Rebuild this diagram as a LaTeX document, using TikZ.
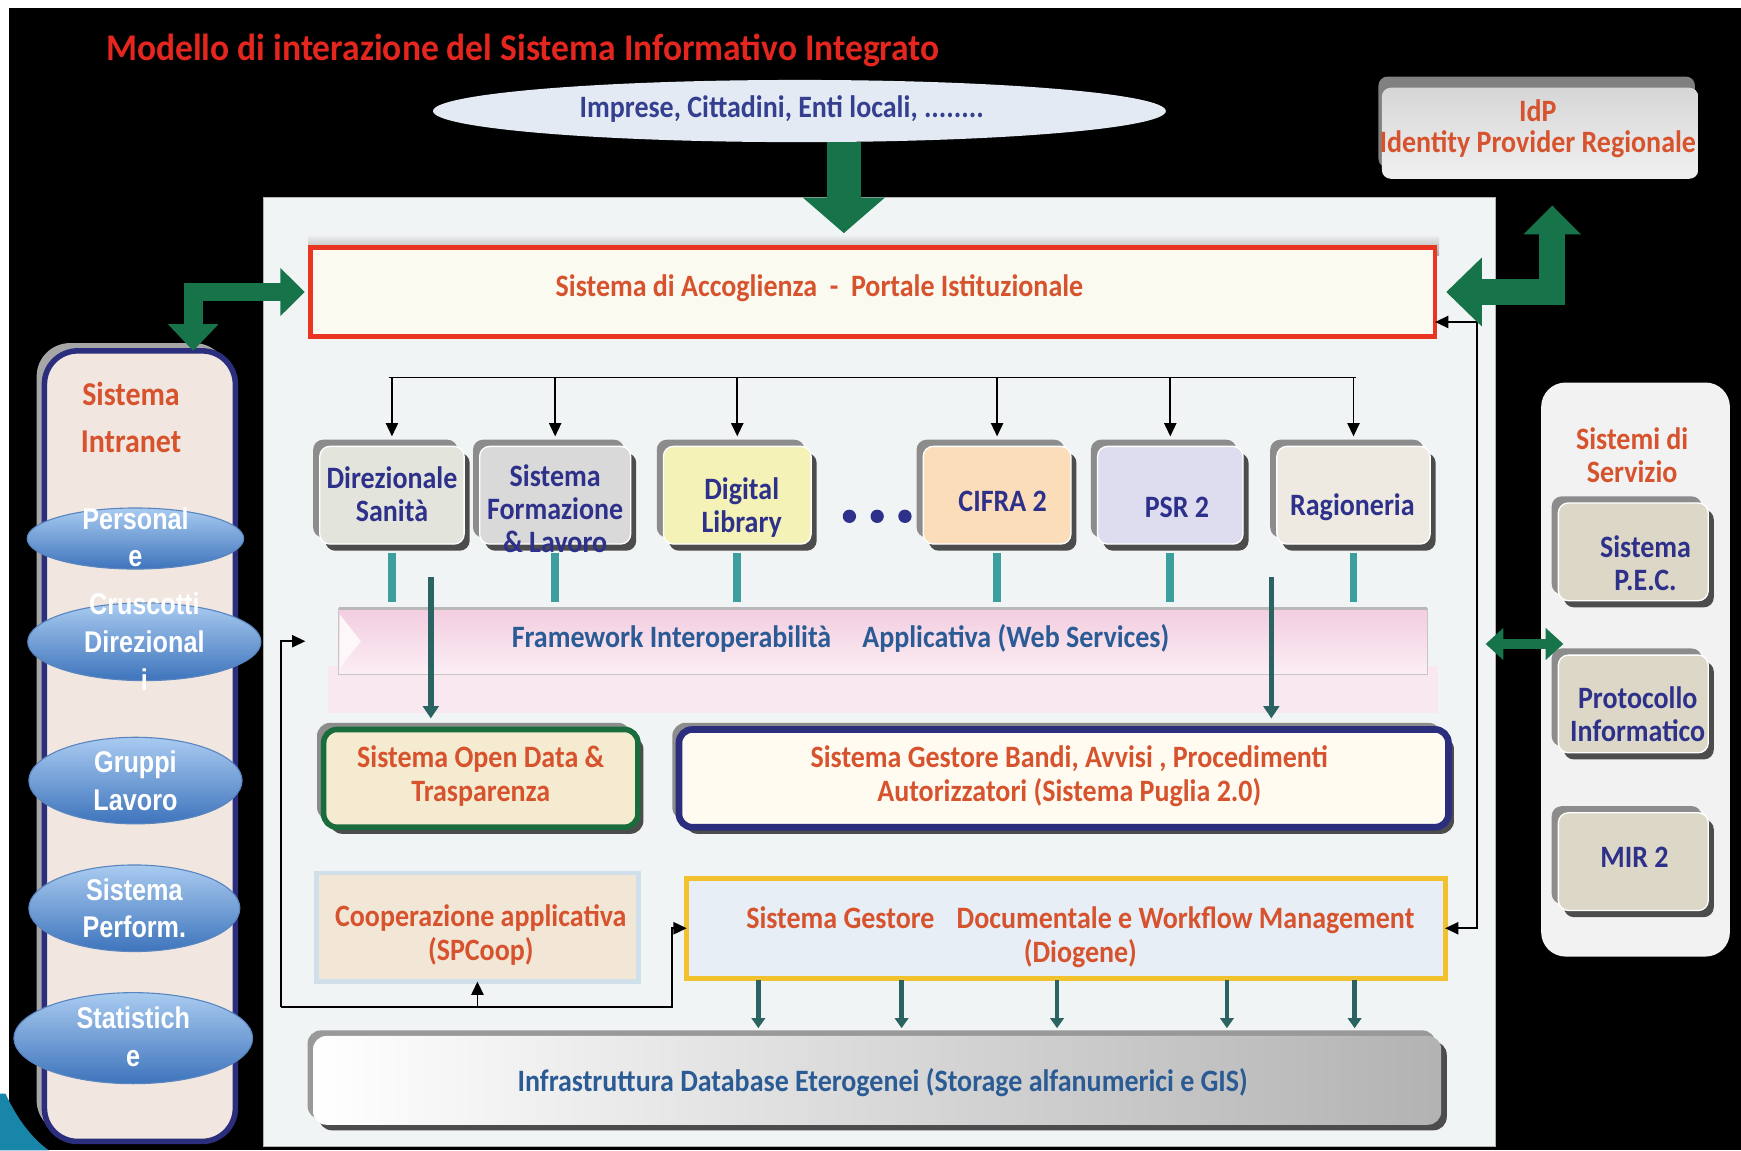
\documentclass[tikz,border=0pt]{standalone}
\usepackage{fontspec}
\setmainfont{Carlito}[FakeStretch=0.9]
\newfontfamily\titfont{Carlito}[FakeStretch=0.94]
\newfontfamily\elfont{Liberation Sans}[FakeStretch=0.84]
\usetikzlibrary{arrows.meta,shadows,calc,shapes.geometric}
\definecolor{titred}{HTML}{E4261E}
\definecolor{ortxt}{HTML}{D6532E}
\definecolor{navytxt}{HTML}{2E318A}
\definecolor{bluetxt}{HTML}{2B5B95}
\definecolor{imptxt}{HTML}{34408F}
\definecolor{garrow}{HTML}{17744A}
\definecolor{tealc}{HTML}{3D9E9E}
\definecolor{dteal}{HTML}{2A6361}
\definecolor{navyb}{HTML}{2A2E7C}
\definecolor{greenb}{HTML}{1B6C3C}
\definecolor{goldb}{HTML}{F2C12E}
\definecolor{redb}{HTML}{EA3522}
\definecolor{panelc}{HTML}{F1F4F4}
\definecolor{ellc}{HTML}{E4EAF4}
\definecolor{portalfill}{HTML}{FBFAF1}
\definecolor{idpTop}{HTML}{D6D6D6}
\definecolor{idpBot}{HTML}{F0F0F0}
\definecolor{intrfill}{HTML}{F1E7E0}
\definecolor{elTop}{HTML}{A9CBF0}
\definecolor{elBot}{HTML}{3E74BC}
\definecolor{elDraw}{HTML}{5A86C0}
\definecolor{dirfill}{HTML}{E3E4DB}
\definecolor{formfill}{HTML}{D9D9D9}
\definecolor{digfill}{HTML}{F4F2B6}
\definecolor{cifrafill}{HTML}{FBDDBA}
\definecolor{psrfill}{HTML}{DDDDEF}
\definecolor{ragfill}{HTML}{EEEAE1}
\definecolor{fwTop}{HTML}{F2CDE0}
\definecolor{fwBot}{HTML}{FCEEF4}
\definecolor{fwglow}{HTML}{F9E8EF}
\definecolor{odfill}{HTML}{F5EBD0}
\definecolor{bdfill}{HTML}{FFFBF1}
\definecolor{coopfill}{HTML}{F2E6D7}
\definecolor{coopglow}{HTML}{CFE0EA}
\definecolor{docfill}{HTML}{E7EEF6}
\definecolor{svcfill}{HTML}{F2F2F2}
\definecolor{svbfill}{HTML}{DCD7C6}
\definecolor{decoblue}{HTML}{1786A8}
\begin{document}
\begin{tikzpicture}[x=1pt,y=-1pt,
  every node/.style={inner sep=0pt, outer sep=0pt},
  lbl/.style={align=center, font=\bfseries\fontsize{28}{30}\selectfont},
  ortext/.style={lbl, text=ortxt},
  nvtext/.style={lbl, text=navytxt},
  modbox/.style={draw=white, line width=1.2pt, rounded corners=9pt, minimum height=88pt,
    general shadow={shadow xshift=-6pt, shadow yshift=6pt, fill=black!45},
    general shadow={shadow xshift=5pt, shadow yshift=-6pt, fill=black!70}},
  bigbox/.style={rounded corners=12pt, minimum height=88pt,
    general shadow={shadow xshift=-6pt, shadow yshift=6pt, fill=black!45},
    general shadow={shadow xshift=5pt, shadow yshift=-6pt, fill=black!70}},
  svbox/.style={modbox, fill=svbfill, minimum width=135pt},
  elps/.style={ellipse, top color=elTop, bottom color=elBot, draw=elDraw, line width=1pt},
  eltxt/.style={align=center, text=white, font=\elfont\bfseries\fontsize{27}{34}\selectfont},
  bus/.style={draw=black, line width=1.6pt},
  busarr/.style={bus, -{Triangle[length=12pt,width=11pt]}, shorten >=9pt},
  blkarr/.style={bus, -{Triangle[length=12pt,width=11pt]}},
  tealconn/.style={draw=tealc, line width=7pt, shorten <=8pt, shorten >=6pt},
  dtarr/.style={draw=dteal, line width=5pt, -{Triangle[length=11pt,width=14pt]}},
  garr/.style={draw=garrow, line join=miter},
]
% background
\fill[white] (0,0) rectangle (1568,1036);
\fill[black] (8,7) rectangle (1568,1036);
\fill[decoblue] (0,985) -- (5,985) .. controls (14,1005) and (28,1025) .. (44,1036) -- (0,1036) -- cycle;

% title
\node[font=\titfont\bfseries\fontsize{34}{36}\selectfont, text=titred] (title) at (471,45) {Modello di interazione del Sistema Informativo Integrato};

% top ellipse
\node[ellipse, fill=ellc, minimum width=660pt, minimum height=56pt] (ell) at (720,100) {};
\node[lbl, text=imptxt] (ellT) at (704,98) {Imprese, Cittadini, Enti locali, ........};

% IdP
\node[rounded corners=8pt, top color=idpTop, bottom color=idpBot, minimum width=285pt, minimum height=82pt,
  general shadow={shadow xshift=-3pt, shadow yshift=10pt, fill=black!50}] (idp) at (1387,120) {};
\node[ortext, font=\bfseries\fontsize{28}{28}\selectfont] (idpT) at (1385,116) {IdP\\Identity Provider Regionale};

% main panel
\node[draw=gray!60, fill=panelc, minimum width=1110pt, minimum height=854pt] (panel) at (792,605) {};

% portal
\fill[top color=panelc, bottom color=gray!70] (278,211) rectangle (1296,230);
\node[draw=redb, line width=4pt, fill=portalfill, minimum width=1013pt, minimum height=80pt] (portal) at (786,263) {};
\node[ortext] (portalT) at (738,260) {Sistema di Accoglienza\ \ -\ \ Portale Istituzionale};

% Intranet column
\node[draw=navyb, line width=5pt, fill=intrfill, rounded corners=30pt, minimum width=172pt, minimum height=712pt,
  general shadow={shadow xshift=-7pt, shadow yshift=7pt, fill=gray!70}] (intr) at (126,672) {};
\node[ortext, font=\bfseries\fontsize{30}{42}\selectfont] (intrT) at (118,376) {Sistema\\Intranet};
\node[elps, minimum width=195pt, minimum height=55pt] (e1) at (122,485) {};
\node[eltxt] (e1T) at (122,484) {Personal\\e};
\node[elps, minimum width=210pt, minimum height=70pt] (e2) at (130,578) {};
\node[eltxt] (e2T) at (130,578) {Cruscotti\\Direzional\\i};
\node[elps, minimum width=192pt, minimum height=78pt] (e3) at (122,703) {};
\node[eltxt] (e3T) at (122,703) {Gruppi\\Lavoro};
\node[elps, minimum width=190pt, minimum height=78pt] (e4) at (121,818) {};
\node[eltxt] (e4T) at (121,818) {Sistema\\Perform.};
\node[elps, minimum width=215pt, minimum height=82pt] (e5) at (120,935) {};
\node[eltxt] (e5T) at (120,934) {Statistich\\e};

% module boxes
\node[modbox, fill=dirfill, minimum width=130pt] (dir) at (353,446) {};
\node[nvtext] (dirT) at (353,445) {Direzionale\\Sanità};
\node[modbox, fill=formfill, minimum width=136pt] (form) at (500,446) {};
\node[nvtext] (formT) at (500,458) {Sistema\\Formazione\\\& Lavoro};
\node[modbox, fill=digfill, minimum width=133pt] (dig) at (664,446) {};
\node[nvtext] (digT) at (668,457) {Digital\\Library};
\node[modbox, fill=cifrafill, minimum width=133pt] (cifra) at (898,446) {};
\node[nvtext] (cifraT) at (903,452) {CIFRA 2};
\node[modbox, fill=psrfill, minimum width=131pt] (psr) at (1054,446) {};
\node[nvtext] (psrT) at (1060,457) {PSR 2};
\node[modbox, fill=ragfill, minimum width=138pt] (rag) at (1219,446) {};
\node[nvtext] (ragT) at (1218,457) {Ragioneria};
\foreach \x in {765,790,815} \fill[navytxt] (\x,465) circle (6);

% distribution bus
\coordinate (busL) at (350,340);
\coordinate (busR) at (1221,340);
\draw[bus] (busL) -- (busR);
\foreach \n in {dir,form,dig,cifra,psr,rag} \draw[busarr] (busL -| \n.north) -- (\n.north);

% framework
\fill[fwglow] (295,600) rectangle (1295,642);
\node[top color=fwTop, bottom color=fwBot, draw=gray!45, minimum width=980pt, minimum height=59pt] (fw) at (795,577.5) {};
\draw[gray!55, line width=3pt] (fw.north west) -- (fw.north east);
\fill[white!55!fwBot] ($(fw.west)+(1,-24)$) -- ($(fw.west)+(20,0)$) -- ($(fw.west)+(1,24)$) -- cycle;
\node[lbl, text=bluetxt] (fwT) at (757,575) {Framework Interoperabilità\hspace{28pt}Applicativa (Web Services)};
\foreach \n in {dir,form,dig,cifra,psr,rag} \draw[tealconn] (\n.south) -- (\n.south |- fw.north);

% open data / bandi
\node[bigbox, draw=greenb, line width=5pt, fill=odfill, minimum width=283pt] (od) at (433,701) {};
\node[ortext] (odT) at (433,699) {Sistema Open Data \&\\Trasparenza};
\node[bigbox, draw=navyb, line width=6pt, fill=bdfill, minimum width=693pt] (bd) at (958,701) {};
\node[ortext] (bdT) at (963,699) {Sistema Gestore Bandi, Avvisi , Procedimenti\\Autorizzatori (Sistema Puglia 2.0)};
\coordinate (odIn) at (388,520);
\coordinate (bdIn) at (1145,520);
\draw[dtarr, shorten >=10pt] (odIn) -- (odIn |- od.north);
\draw[dtarr, shorten >=10pt] (bdIn) -- (bdIn |- bd.north);

% cooperazione / documentale
\node[fill=coopfill, draw=coopglow, line width=4pt, minimum width=290pt, minimum height=98pt] (coop) at (430,835) {};
\node[ortext] (coopT) at (433,842) {Cooperazione applicativa\\(SPCoop)};
\node[draw=goldb, line width=4.5pt, fill=docfill, minimum width=683pt, minimum height=90pt] (doc) at (960,836) {};
\node[ortext] (docT) at (973,844) {Sistema Gestore\hspace{20pt}Documentale e Workflow Management\\(Diogene)};

% infrastruttura
\node[rounded corners=12pt, left color=white, right color=gray!60, minimum width=1016pt, minimum height=80pt,
  general shadow={shadow xshift=-5pt, shadow yshift=5pt, fill=black!40},
  general shadow={shadow xshift=5pt, shadow yshift=-5pt, fill=black!70}] (inf) at (790,973) {};
\node[lbl, text=bluetxt] (infT) at (795,975) {Infrastruttura Database Eterogenei (Storage alfanumerici e GIS)};
\foreach \x [count=\i] in {683,812,952,1105,1220} {
  \coordinate (dx\i) at (\x,0);
  \draw[draw=dteal, line width=4pt, -{Triangle[length=9pt,width=12pt]}, shorten <=2pt, shorten >=7pt] (doc.south -| dx\i) -- (inf.north -| dx\i);
}

% black connectors
\coordinate (lc) at (253,907);
\coordinate (lc2) at (605,907);
\draw[blkarr, shorten >=30pt] (lc) |- (fw.west);
\draw[blkarr] (lc) -- (lc2) |- (doc.west);
\draw[blkarr] (coop.south |- lc) -- (coop.south);
\coordinate (rc) at (1330,290);
\draw[bus, {Triangle[length=12pt,width=11pt]}-{Triangle[length=12pt,width=11pt]}] (portal.east |- rc) -- (rc) |- (doc.east);

% services panel
\node[rounded corners=22pt, fill=svcfill, minimum width=170pt, minimum height=517pt] (svc) at (1473,603) {};
\node[ortext] (svcT) at (1470,410) {Sistemi di\\Servizio};
\node[svbox] (pec) at (1471,497) {};
\node[nvtext] (pecT) at (1482,507) {Sistema\\P.E.C.};
\node[svbox] (proto) at (1471,634) {};
\node[nvtext] (protoT) at (1475,643) {Protocollo\\Informatico};
\node[svbox] (mir) at (1471,776) {};
\node[nvtext] (mirT) at (1472,772) {MIR 2};

% green arrows
\coordinate (dnTip) at (760,210);
\draw[garr, line width=30pt, -{Triangle[length=32pt,width=72pt]}] (ell.south -| dnTip) -- (dnTip);
\draw[garr, line width=17pt, {Triangle[length=22pt,width=42pt]}-{Triangle[length=24pt,width=44pt]}, shorten <=5pt] (portal.west) -| ([xshift=48pt]intr.north);
\coordinate (idpIn) at (1398,185);
\draw[garr, line width=23pt, {Triangle[length=32pt,width=60pt]}-{Triangle[length=26pt,width=50pt]}, shorten <=10pt] (portal.east) -| (idpIn);
\coordinate (sA) at (1338,580);
\coordinate (sB) at (1408,580);
\draw[garr, line width=9pt, {Triangle[length=16pt,width=28pt]}-{Triangle[length=16pt,width=28pt]}] (sA) -- (sB);
\end{tikzpicture}
\end{document}
